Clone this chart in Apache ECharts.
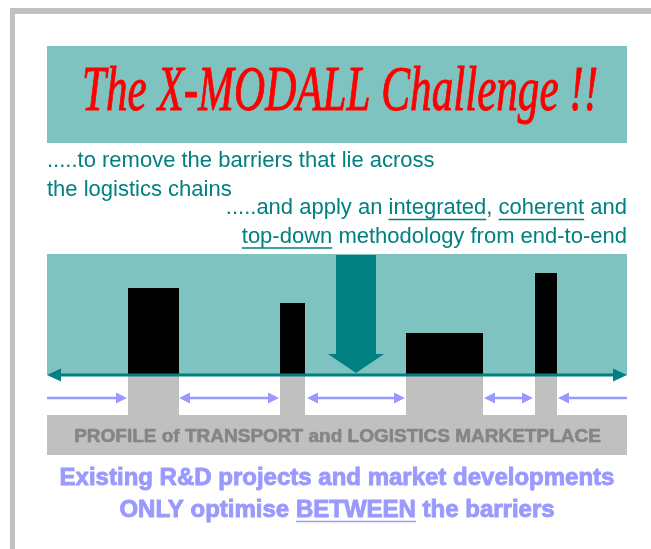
<!DOCTYPE html>
<html>
<head>
<meta charset="utf-8">
<script src="https://cdn.jsdelivr.net/npm/echarts@6/dist/echarts.min.js"></script>
<style>
html, body { margin: 0; padding: 0; background: #fff; }
#main { width: 651px; height: 549px; }
</style>
</head>
<body>
<div id="main"></div>
<script>
// barriers along the logistics chain (x from 0 to 580, height above the line)
var barrierStart = [81, 233, 359, 488];
var barrierEnd = [132, 258, 436, 510];
var barrierHeight = [87, 72, 42, 102];

// optimised stretches between the barriers
var gapFrom = [0, 132, 260, 437, 511];
var gapTo = [80, 232, 358, 486, 580];
var gapHeads = ['right', 'both', 'both', 'both', 'left'];

// the top-down arrow: centre, top of shaft, top of head, tip
var downX = [309];
var downTop = [120];
var downHeadTop = [21];
var downTip = [2];

// texts
var titleText = 'The X-MODALL Challenge !!';
var introLines = ['.....to remove the barriers that lie across', 'the logistics chains'];
var goalLines = ['.....and apply an integrated, coherent and', 'top-down methodology from end-to-end'];
var goalUnderlined = [['integrated', 'coherent'], ['top-down']];
var profileText = 'PROFILE of TRANSPORT and LOGISTICS MARKETPLACE';
var footLines = ['Existing R&D projects and market developments', 'ONLY optimise BETWEEN the barriers'];
var footUnderlined = [[], ['BETWEEN']];

var TEAL = '#008080';
var TEAL_LIGHT = '#7fc3c0';
var GREY = '#c0c0c0';
var LAVENDER = '#9999ff';

var chart = echarts.init(document.getElementById('main'));

// text measuring for the underlines and the title squeeze
var ctx = document.createElement('canvas').getContext('2d');
function textWidth(str, font) {
    ctx.font = font;
    return ctx.measureText(str).width;
}

var graphics = [];
// frame
graphics.push({type: 'rect', shape: {x: 10, y: 8, width: 641, height: 6}, style: {fill: GREY}});
graphics.push({type: 'rect', shape: {x: 10, y: 8, width: 5, height: 541}, style: {fill: GREY}});
// title panel
graphics.push({type: 'rect', shape: {x: 47, y: 46, width: 580, height: 97}, style: {fill: TEAL_LIGHT}});
var titleFont = 'italic 64px "Liberation Serif", "DejaVu Serif", serif';
graphics.push({type: 'text', x: 340, y: 93, scaleX: 516 / textWidth(titleText, titleFont), style: {
    text: titleText, x: 0, y: 0, textAlign: 'center', textVerticalAlign: 'middle',
    fill: '#ff0000', font: titleFont, stroke: '#ff0000', lineWidth: 1
}});
// diagram panel
graphics.push({type: 'rect', shape: {x: 47, y: 254, width: 580, height: 121}, style: {fill: TEAL_LIGHT}});

function addLine(str, x, y, align, font, color, words, heavy) {
    graphics.push({type: 'text', style: {
        text: str, x: x, y: y, textAlign: align, textVerticalAlign: 'middle', fill: color, font: font,
        stroke: heavy ? color : null, lineWidth: heavy ? 0.9 : 0
    }});
    var w = textWidth(str, font);
    var left = align === 'right' ? x - w : (align === 'center' ? x - w / 2 : x);
    (words || []).forEach(function (word) {
        var i = str.indexOf(word);
        var x0 = left + textWidth(str.substring(0, i), font);
        var x1 = x0 + textWidth(word, font);
        graphics.push({type: 'line', shape: {x1: x0, y1: y + 11.5, x2: x1, y2: y + 11.5},
            style: {stroke: color, lineWidth: 1.5}});
    });
}

var bodyFont = '22px "Liberation Sans", Arial, sans-serif';
addLine(introLines[0], 47, 160.5, 'left', bodyFont, TEAL);
addLine(introLines[1], 47, 190, 'left', bodyFont, TEAL);
addLine(goalLines[0], 627, 208, 'right', bodyFont, TEAL, goalUnderlined[0]);
addLine(goalLines[1], 627, 236.5, 'right', bodyFont, TEAL, goalUnderlined[1]);

var footFont = 'bold 24px "Liberation Sans", Arial, sans-serif';
addLine(footLines[0], 337, 478, 'center', footFont, LAVENDER, footUnderlined[0], true);
addLine(footLines[1], 337, 510, 'center', footFont, LAVENDER, footUnderlined[1], true);

var barrierData = barrierStart.map(function (s, i) { return [s, barrierEnd[i], barrierHeight[i]]; });
var gapData = gapFrom.map(function (s, i) { return [s, gapTo[i], gapHeads[i]]; });
var downData = downX.map(function (x, i) { return [x, downTop[i], downHeadTop[i], downTip[i]]; });

function arrowHead(tipX, y, dir, len, half) {
    return [[tipX, y], [tipX - dir * len, y - half], [tipX - dir * len, y + half]];
}

var option = {
    backgroundColor: '#fff',
    animation: false,
    grid: {left: 47, top: 255, width: 580, height: 200},
    xAxis: {type: 'value', min: 0, max: 580, show: false},
    yAxis: {type: 'value', min: -80, max: 120, show: false},
    graphic: graphics,
    series: [
        {
            // profile band with a column under each barrier
            type: 'custom',
            z: 1,
            data: [[0, 580]],
            renderItem: function (params, api) {
                var a = api.coord([api.value(0), -40]);
                var b = api.coord([api.value(1), -80]);
                var c = api.coord([290, -60]);
                var kids = [{type: 'rect', shape: {x: a[0], y: a[1], width: b[0] - a[0], height: b[1] - a[1]}, style: {fill: GREY}}];
                barrierData.forEach(function (d) {
                    var p = api.coord([d[0], 0]);
                    var q = api.coord([d[1], -40]);
                    kids.push({type: 'rect', shape: {x: p[0], y: p[1], width: q[0] - p[0], height: q[1] - p[1]}, style: {fill: GREY}});
                });
                kids.push({type: 'text', style: {
                    text: profileText, x: c[0] + 0.5, y: c[1] + 2, textAlign: 'center', textVerticalAlign: 'middle',
                    fill: '#858585', font: 'bold 19px "Liberation Sans", Arial, sans-serif',
                    stroke: '#858585', lineWidth: 0.6
                }});
                return {type: 'group', children: kids};
            }
        },
        {
            type: 'custom',
            name: 'barriers',
            z: 2,
            data: barrierData,
            renderItem: function (params, api) {
                var p0 = api.coord([api.value(0), api.value(2)]);
                var p1 = api.coord([api.value(1), 0]);
                return {type: 'rect', shape: {x: p0[0], y: p0[1], width: p1[0] - p0[0], height: p1[1] - p0[1]}, style: {fill: '#000'}};
            }
        },
        {
            type: 'custom',
            name: 'top-down',
            z: 3,
            data: downData,
            renderItem: function (params, api) {
                var cx = api.coord([api.value(0), 0])[0];
                var top = api.coord([0, api.value(1)])[1];
                var headTop = api.coord([0, api.value(2)])[1];
                var tip = api.coord([0, api.value(3)])[1];
                var sw = 20, hw = 28;
                return {type: 'polygon', shape: {points: [
                    [cx - sw, top], [cx + sw, top], [cx + sw, headTop], [cx + hw, headTop],
                    [cx, tip], [cx - hw, headTop], [cx - sw, headTop]
                ]}, style: {fill: TEAL}};
            }
        },
        {
            // the chain itself
            type: 'custom',
            z: 4,
            data: [[0, 580]],
            renderItem: function (params, api) {
                var a = api.coord([api.value(0), 0]);
                var b = api.coord([api.value(1), 0]);
                return {type: 'group', children: [
                    {type: 'line', shape: {x1: a[0] + 8, y1: a[1], x2: b[0] - 8, y2: b[1]}, style: {stroke: TEAL, lineWidth: 3}},
                    {type: 'polygon', shape: {points: arrowHead(a[0], a[1], -1, 14, 6.5)}, style: {fill: TEAL}},
                    {type: 'polygon', shape: {points: arrowHead(b[0], b[1], 1, 14, 6.5)}, style: {fill: TEAL}}
                ]};
            }
        },
        {
            type: 'custom',
            name: 'between',
            z: 4,
            data: gapData,
            renderItem: function (params, api) {
                var a = api.coord([api.value(0), -23]);
                var b = api.coord([api.value(1), -23]);
                var heads = gapHeads[params.dataIndex];
                var kids = [{type: 'line', shape: {
                    x1: a[0] + (heads !== 'right' ? 6 : 0), y1: a[1],
                    x2: b[0] - (heads !== 'left' ? 6 : 0), y2: b[1]
                }, style: {stroke: LAVENDER, lineWidth: 2.5}}];
                if (heads !== 'right') kids.push({type: 'polygon', shape: {points: arrowHead(a[0], a[1], -1, 11, 5.5)}, style: {fill: LAVENDER}});
                if (heads !== 'left') kids.push({type: 'polygon', shape: {points: arrowHead(b[0], b[1], 1, 11, 5.5)}, style: {fill: LAVENDER}});
                return {type: 'group', children: kids};
            }
        }
    ]
};
chart.setOption(option);
</script>
</body>
</html>
